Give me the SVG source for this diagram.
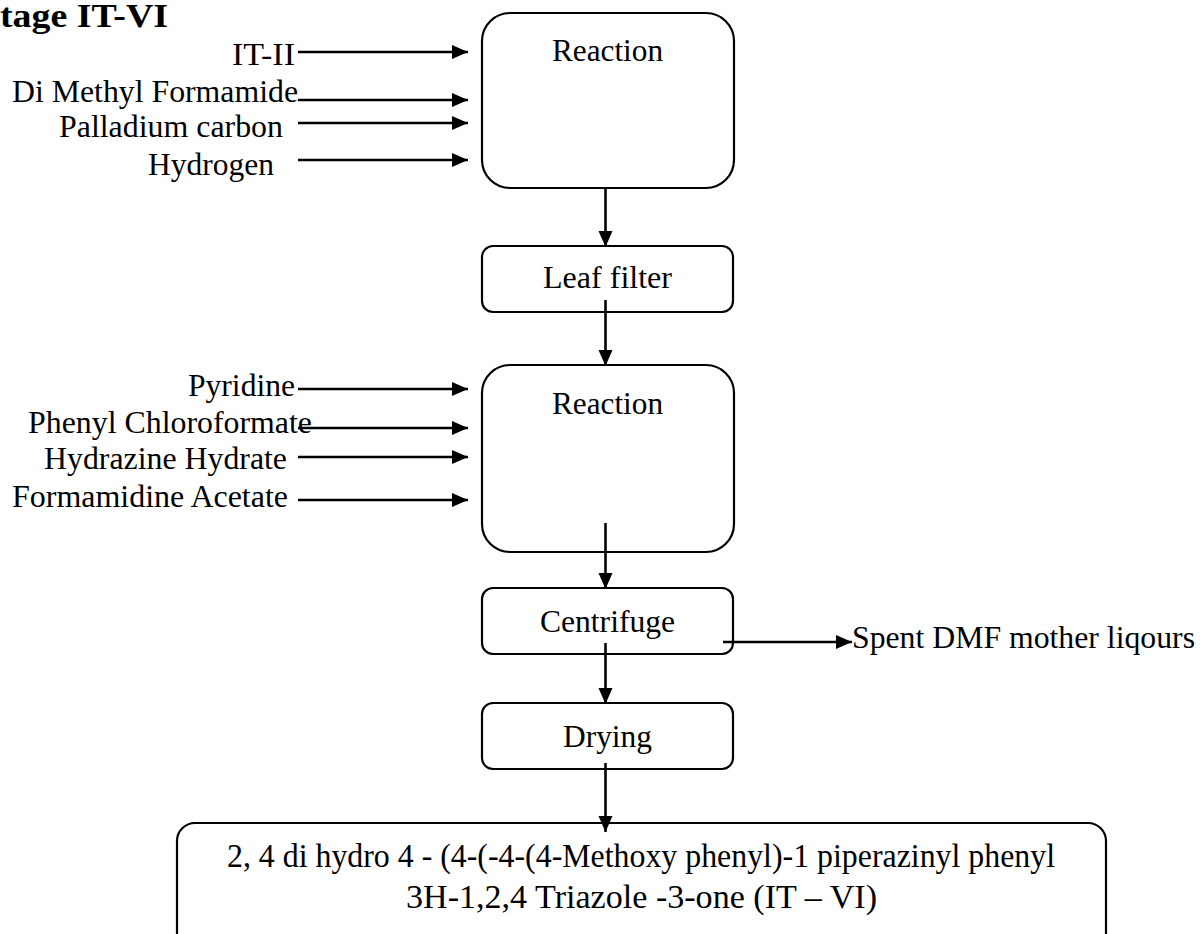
<svg xmlns="http://www.w3.org/2000/svg" width="1200" height="934" viewBox="0 0 1200 934">
  <defs>
    <marker id="arrow" markerUnits="userSpaceOnUse" markerWidth="18" markerHeight="16" refX="16" refY="7" orient="auto">
      <path d="M0,0 L16,7 L0,14 Z" fill="#000"/>
    </marker>
  </defs>
  <style>
    text { font-family: 'Liberation Serif', Tinos, 'Times New Roman', Times, serif; fill: #000; }
    .lbl { font-size: 31px; }
    .big { font-size: 33px; }
    .title { font-size: 33px; font-weight: bold; }
    .box { fill: #fff; stroke: #000; stroke-width: 2.2; }
    .conn line { stroke: #000; stroke-width: 2.6; marker-end: url(#arrow); }
  </style>
  <rect width="1200" height="934" fill="#fff"/>

  <text class="title" x="0" y="27" textLength="168" lengthAdjust="spacingAndGlyphs">tage IT-VI</text>

  <!-- process boxes -->
  <g id="reaction1">
    <rect class="box" x="482" y="13" width="252" height="175" rx="28"/>
    <text class="lbl" x="552" y="61" textLength="111" lengthAdjust="spacingAndGlyphs">Reaction</text>
  </g>
  <g id="leaf-filter">
    <rect class="box" x="482" y="246" width="251" height="66" rx="11"/>
    <text class="lbl" x="543" y="288" textLength="129" lengthAdjust="spacingAndGlyphs">Leaf filter</text>
  </g>
  <g id="reaction2">
    <rect class="box" x="482" y="365" width="252" height="187" rx="28"/>
    <text class="lbl" x="552" y="414" textLength="111" lengthAdjust="spacingAndGlyphs">Reaction</text>
  </g>
  <g id="centrifuge">
    <rect class="box" x="482" y="588" width="251" height="66" rx="11"/>
    <text class="lbl" x="540" y="632" textLength="135" lengthAdjust="spacingAndGlyphs">Centrifuge</text>
  </g>
  <g id="drying">
    <rect class="box" x="482" y="703" width="251" height="66" rx="11"/>
    <text class="lbl" x="563" y="747" textLength="89" lengthAdjust="spacingAndGlyphs">Drying</text>
  </g>
  <g id="product">
    <rect class="box" x="177" y="823" width="929" height="140" rx="18"/>
    <text class="big" x="227" y="867" textLength="828" lengthAdjust="spacingAndGlyphs">2, 4 di hydro 4 - (4-(-4-(4-Methoxy phenyl)-1 piperazinyl phenyl</text>
    <text class="big" x="406" y="908" textLength="471" lengthAdjust="spacingAndGlyphs">3H-1,2,4 Triazole -3-one (IT – VI)</text>
  </g>

  <!-- feed and output labels -->
  <g id="feeds1">
    <text class="lbl" x="232" y="65" textLength="63" lengthAdjust="spacingAndGlyphs">IT-II</text>
    <text class="lbl" x="12" y="102" textLength="286" lengthAdjust="spacingAndGlyphs">Di Methyl Formamide</text>
    <text class="lbl" x="59" y="137" textLength="224" lengthAdjust="spacingAndGlyphs">Palladium carbon</text>
    <text class="lbl" x="148" y="175" textLength="126" lengthAdjust="spacingAndGlyphs">Hydrogen</text>
  </g>
  <g id="feeds2">
    <text class="lbl" x="188" y="396" textLength="107" lengthAdjust="spacingAndGlyphs">Pyridine</text>
    <text class="lbl" x="28" y="433" textLength="284" lengthAdjust="spacingAndGlyphs">Phenyl Chloroformate</text>
    <text class="lbl" x="44" y="469" textLength="243" lengthAdjust="spacingAndGlyphs">Hydrazine Hydrate</text>
    <text class="lbl" x="12" y="507" textLength="276" lengthAdjust="spacingAndGlyphs">Formamidine Acetate</text>
  </g>
  <g id="waste">
    <text class="lbl" x="852" y="648" textLength="343" lengthAdjust="spacingAndGlyphs">Spent DMF mother liqours</text>
  </g>

  <!-- connectors -->
  <g class="conn" id="connectors">
    <line x1="298" y1="52" x2="468" y2="52"/>
    <line x1="298" y1="100" x2="468" y2="100"/>
    <line x1="298" y1="123" x2="468" y2="123"/>
    <line x1="298" y1="160" x2="468" y2="160"/>
    <line x1="298" y1="389" x2="468" y2="389"/>
    <line x1="298" y1="428" x2="468" y2="428"/>
    <line x1="298" y1="457" x2="468" y2="457"/>
    <line x1="298" y1="500" x2="468" y2="500"/>
    <line x1="605.5" y1="188" x2="605.5" y2="247"/>
    <line x1="605.5" y1="300" x2="605.5" y2="366"/>
    <line x1="605.5" y1="523" x2="605.5" y2="589"/>
    <line x1="605.5" y1="643" x2="605.5" y2="704"/>
    <line x1="605.5" y1="763" x2="605.5" y2="832"/>
    <line x1="723" y1="642" x2="852" y2="642"/>
  </g>
</svg>
